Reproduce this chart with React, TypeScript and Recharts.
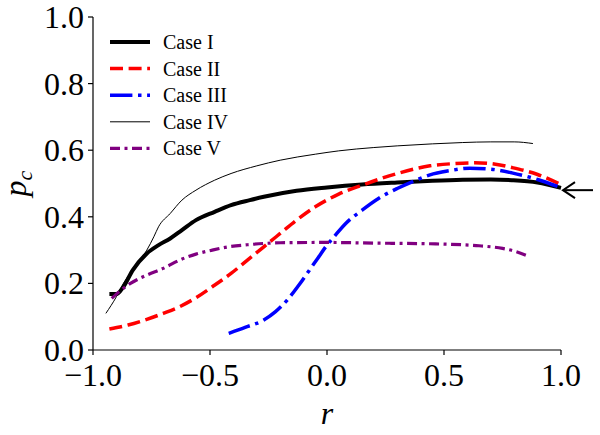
import React from 'react';
import { LineChart, Line, XAxis, YAxis, ReferenceDot } from 'recharts';

// r values and p_c values for each case
const case1R = [-0.93, -0.9, -0.87, -0.83, -0.77, -0.72, -0.67, -0.62, -0.56, -0.48, -0.41, -0.33, -0.27, -0.13, 0.0, 0.15, 0.3, 0.45, 0.58, 0.7, 0.79, 0.9, 1.0];
const case1P = [0.168, 0.168, 0.19, 0.24, 0.29, 0.315, 0.335, 0.36, 0.39, 0.415, 0.435, 0.45, 0.46, 0.478, 0.488, 0.497, 0.503, 0.508, 0.511, 0.512, 0.51, 0.503, 0.487];

const case2R = [-0.93, -0.85, -0.77, -0.7, -0.63, -0.56, -0.49, -0.41, -0.34, -0.27, -0.2, -0.13, -0.05, 0.05, 0.15, 0.3, 0.44, 0.55, 0.63, 0.72, 0.79, 0.9, 0.99];
const case2P = [0.063, 0.075, 0.092, 0.11, 0.13, 0.157, 0.19, 0.23, 0.27, 0.31, 0.35, 0.39, 0.43, 0.468, 0.495, 0.53, 0.553, 0.56, 0.562, 0.558, 0.548, 0.527, 0.5];

const case3R = [-0.42, -0.35, -0.27, -0.22, -0.17, -0.12, -0.085, -0.04, 0.0, 0.03, 0.08, 0.15, 0.22, 0.3, 0.37, 0.44, 0.52, 0.61, 0.7, 0.79, 0.9, 0.99];
const case3P = [0.05, 0.068, 0.09, 0.115, 0.15, 0.195, 0.23, 0.275, 0.315, 0.34, 0.38, 0.42, 0.455, 0.485, 0.507, 0.526, 0.538, 0.546, 0.543, 0.532, 0.512, 0.49];

const case4R = [-0.945, -0.9, -0.87, -0.82, -0.77, -0.74, -0.72, -0.67, -0.62, -0.56, -0.48, -0.41, -0.3, -0.2, -0.05, 0.05, 0.2, 0.3, 0.45, 0.58, 0.7, 0.8, 0.88];
const case4P = [0.11, 0.16, 0.2, 0.25, 0.3, 0.34, 0.37, 0.41, 0.45, 0.48, 0.51, 0.53, 0.553, 0.57, 0.588, 0.598, 0.608, 0.613, 0.619, 0.623, 0.625, 0.625, 0.62];

const case5R = [-0.92, -0.88, -0.84, -0.77, -0.7, -0.63, -0.56, -0.49, -0.42, -0.34, -0.2, 0.0, 0.2, 0.44, 0.58, 0.65, 0.75, 0.8, 0.86];
const case5P = [0.155, 0.18, 0.2, 0.225, 0.245, 0.27, 0.288, 0.3, 0.31, 0.316, 0.322, 0.323, 0.321, 0.319, 0.316, 0.313, 0.305, 0.297, 0.282];

const xTicks = [-1, -0.5, 0, 0.5, 1];
const yTicks = [0, 0.2, 0.4, 0.6, 0.8, 1];

// marked limit value on the right edge
const arrowR = 1;
const arrowP = 0.48;

const toPoints = (rs: number[], ps: number[]) => rs.map((r, i) => ({ r, pc: ps[i] }));

const series = [
  { name: 'Case I', data: toPoints(case1R, case1P), stroke: '#000000', width: 4, dash: undefined },
  { name: 'Case II', data: toPoints(case2R, case2P), stroke: '#ff0000', width: 3.5, dash: '13 5.6' },
  { name: 'Case III', data: toPoints(case3R, case3P), stroke: '#0000ff', width: 3.5, dash: '22.4 5.6 3.5 5.6' },
  { name: 'Case IV', data: toPoints(case4R, case4P), stroke: '#000000', width: 1, dash: undefined },
  { name: 'Case V', data: toPoints(case5R, case5P), stroke: '#800080', width: 3.2, dash: '10 4.5 3 4.5' },
];

const FONT = '"Liberation Serif", "DejaVu Serif", serif';

const fmt = (v: number) => (v < 0 ? '\u2212' : '') + Math.abs(v).toFixed(1);

const LegendBox = () => (
  <svg width={140} height={140} style={{ position: 'absolute', left: 105, top: 28 }}>
    {series.map((s, i) => {
      const y = 14 + i * 26.6;
      return (
        <g key={s.name}>
          <line x1={5} x2={45} y1={y} y2={y} stroke={s.stroke} strokeWidth={s.width} strokeDasharray={s.dash} />
          <text x={58} y={y + 7} fontFamily={FONT} fontSize={20} fill="#000">
            {s.name}
          </text>
        </g>
      );
    })}
  </svg>
);

const XTick = (props: any) => {
  const { x, y, payload } = props;
  return (
    <text x={x} y={y + 29} textAnchor="middle" fontFamily={FONT} fontSize={32} fill="#000">
      {fmt(payload.value)}
    </text>
  );
};

const YTick = (props: any) => {
  const { x, y, payload } = props;
  return (
    <text x={x - 2} y={y + 11} textAnchor="end" fontFamily={FONT} fontSize={32} fill="#000">
      {fmt(payload.value)}
    </text>
  );
};

const Arrow = (props: any) => {
  const { cx, cy } = props;
  const x0 = cx + 2;
  return (
    <g stroke="#000" strokeWidth={2} fill="none">
      <line x1={x0} y1={cy} x2={x0 + 30} y2={cy} />
      <polyline points={`${x0 + 12},${cy - 8} ${x0},${cy} ${x0 + 12},${cy + 8}`} />
    </g>
  );
};

const YLabel = (props: any) => {
  const vb = props.viewBox;
  const cx = 26;
  const cy = vb.y + vb.height / 2;
  return (
    <text
      x={cx}
      y={cy}
      transform={`rotate(-90, ${cx}, ${cy})`}
      textAnchor="middle"
      fontFamily={FONT}
      fontSize={32}
      fontStyle="italic"
      fill="#000"
    >
      p<tspan fontSize={22} dy={6}>c</tspan>
    </text>
  );
};

const XLabel = (props: any) => {
  const vb = props.viewBox;
  return (
    <text
      x={vb.x + vb.width / 2}
      y={vb.y + 74}
      textAnchor="middle"
      fontFamily={FONT}
      fontSize={32}
      fontStyle="italic"
      fill="#000"
    >
      r
    </text>
  );
};

export default function App() {
  const axisStroke = { stroke: '#000', strokeWidth: 1.2 };
  return (
    <div style={{ position: 'absolute', left: 0, top: 0, width: 600, height: 435, background: '#fff' }}>
      <LineChart width={600} height={435} margin={{ top: 17, right: 39, left: 0, bottom: 0 }}>
        <XAxis
          dataKey="r"
          type="number"
          domain={[-1, 1]}
          ticks={xTicks}
          tick={<XTick />}
          tickSize={5}
          height={85}
          axisLine={axisStroke}
          tickLine={axisStroke}
          allowDuplicatedCategory={false}
          label={<XLabel />}
        />
        <XAxis xAxisId="top" orientation="top" type="number" domain={[-1, 1]} height={0} tick={false} tickLine={false} axisLine={axisStroke} />
        <YAxis
          type="number"
          domain={[0, 1]}
          ticks={yTicks}
          tick={<YTick />}
          tickSize={5}
          width={93}
          axisLine={axisStroke}
          tickLine={axisStroke}
          label={<YLabel />}
        />
        <YAxis yAxisId="right" orientation="right" type="number" domain={[0, 1]} width={0} tick={false} tickLine={false} axisLine={axisStroke} />
        {series.map((s) => (
          <Line
            key={s.name}
            name={s.name}
            data={s.data}
            dataKey="pc"
            type="monotone"
            stroke={s.stroke}
            strokeWidth={s.width}
            strokeDasharray={s.dash}
            dot={false}
            activeDot={false}
            isAnimationActive={false}
          />
        ))}
        <ReferenceDot x={arrowR} y={arrowP} ifOverflow="visible" shape={<Arrow />} />
      </LineChart>
      <LegendBox />
    </div>
  );
}
